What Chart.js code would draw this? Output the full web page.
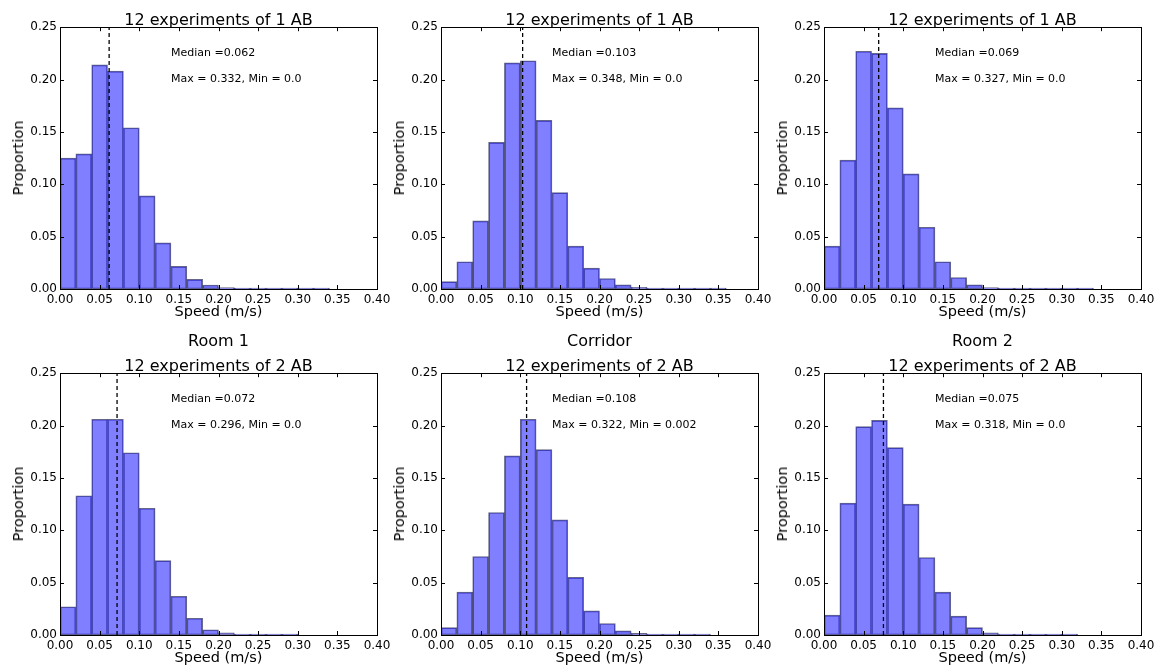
<!DOCTYPE html>
<html>
<head>
<meta charset="utf-8">
<script src="https://cdn.jsdelivr.net/npm/chart.js@4.4.0/dist/chart.umd.min.js"></script>
<style>
  body { margin: 0; background: #fff; }
  #wrap { position: relative; width: 1157px; height: 668px; overflow: hidden; font-family: 'DejaVu Sans', sans-serif; color: #000; }
  canvas { position: absolute; }
  .lbl { position: absolute; white-space: nowrap; transform: translate(-50%, -50%); }
  .title { font-size: 16px; }
  .axis { font-size: 14.5px; }
  .ylab { transform: translate(-50%, -50%) rotate(-90deg); }
</style>
</head>
<body>
<div id="wrap"></div>
<script>
// histogram bins (centres of 0.02 wide bins)
const binCenters = [0.01, 0.03, 0.05, 0.07, 0.09, 0.11, 0.13, 0.15, 0.17, 0.19,
                    0.21, 0.23, 0.25, 0.27, 0.29, 0.31, 0.33, 0.35, 0.37, 0.39];
const xTicks = [0, 0.05, 0.1, 0.15, 0.2, 0.25, 0.3, 0.35, 0.4];
const yTicks = [0, 0.05, 0.1, 0.15, 0.2, 0.25];

const room1OneAB    = [0.125, 0.129, 0.214, 0.208, 0.154, 0.089, 0.044, 0.0216, 0.0092, 0.0038, 0.0013, 0.0005, 0.0003, 0.0001, 0.0001, 0.00005, 0.00003];
const corridorOneAB = [0.007, 0.026, 0.065, 0.140, 0.216, 0.218, 0.161, 0.092, 0.041, 0.020, 0.010, 0.004, 0.0016, 0.0006, 0.0002, 0.0001, 0.00005, 0.00003];
const room2OneAB    = [0.041, 0.123, 0.227, 0.225, 0.173, 0.110, 0.059, 0.026, 0.011, 0.004, 0.0013, 0.0005, 0.0002, 0.0001, 0.0001, 0.00005, 0.0002];
const room1TwoAB    = [0.027, 0.133, 0.206, 0.206, 0.174, 0.121, 0.071, 0.037, 0.016, 0.005, 0.002, 0.0005, 0.0002, 0.0001, 0.00005];
const corridorTwoAB = [0.007, 0.041, 0.075, 0.117, 0.171, 0.206, 0.177, 0.110, 0.055, 0.023, 0.011, 0.004, 0.0015, 0.0005, 0.0002, 0.0001, 0.00005];
const room2TwoAB    = [0.019, 0.126, 0.199, 0.205, 0.179, 0.125, 0.074, 0.041, 0.018, 0.007, 0.002, 0.0006, 0.0002, 0.0001, 0.00005, 0.00003];

const medians = [0.062, 0.103, 0.069, 0.072, 0.108, 0.075];
const maxima  = ['0.332', '0.348', '0.327', '0.296', '0.322', '0.318'];
const minima  = ['0.0', '0.0', '0.0', '0.0', '0.002', '0.0'];
const titles  = ['12 experiments of 1 AB', '12 experiments of 1 AB', '12 experiments of 1 AB',
                 '12 experiments of 2 AB', '12 experiments of 2 AB', '12 experiments of 2 AB'];
const roomNames = ['Room 1', 'Corridor', 'Room 2'];

const series = [room1OneAB, corridorOneAB, room2OneAB, room1TwoAB, corridorTwoAB, room2TwoAB];

Chart.defaults.font.family = "'DejaVu Sans', sans-serif";
Chart.defaults.color = '#000';

const colLeft = [60, 441, 824];
const rowTop = [27, 373];
const plotW = 317;
const plotH = 262;

const frame = {
  id: 'frame',
  afterDatasetsDraw(chart) {
    const { ctx, chartArea: a, scales } = chart;
    ctx.save();
    ctx.strokeStyle = '#000';
    ctx.lineWidth = 1;
    ctx.beginPath();
    xTicks.forEach(v => {
      const px = Math.round(scales.x.getPixelForValue(v)) + 0.5;
      ctx.moveTo(px, a.bottom); ctx.lineTo(px, a.bottom - 4);
      ctx.moveTo(px, a.top); ctx.lineTo(px, a.top + 4);
    });
    yTicks.forEach(v => {
      const py = Math.round(scales.y.getPixelForValue(v)) + 0.5;
      ctx.moveTo(a.left, py); ctx.lineTo(a.left + 4, py);
      ctx.moveTo(a.right, py); ctx.lineTo(a.right - 4, py);
    });
    ctx.stroke();
    ctx.strokeRect(Math.round(a.left) + 0.5, Math.round(a.top) + 0.5,
                   Math.round(a.right - a.left), Math.round(a.bottom - a.top));
    const i = chart.options.plugins.frame.idx;
    ctx.fillStyle = '#000';
    ctx.font = "11px 'DejaVu Sans'";
    ctx.textBaseline = 'middle';
    const tx = scales.x.getPixelForValue(0.14);
    ctx.fillText('Median =' + medians[i], tx, scales.y.getPixelForValue(0.225));
    ctx.fillText('Max = ' + maxima[i] + ', Min = ' + minima[i], tx, scales.y.getPixelForValue(0.2));
    ctx.restore();
  }
};

const wrap = document.getElementById('wrap');

function addLabel(text, cls, x, y) {
  const d = document.createElement('div');
  d.className = 'lbl ' + cls;
  d.textContent = text;
  d.style.left = x + 'px';
  d.style.top = y + 'px';
  wrap.appendChild(d);
}

series.forEach((vals, i) => {
  const col = i % 3, row = Math.floor(i / 3);
  const left = colLeft[col], top = rowTop[row];
  const canvas = document.createElement('canvas');
  canvas.width = plotW + 80;
  canvas.height = plotH + 34;
  canvas.style.left = (left - 60) + 'px';
  canvas.style.top = (top - 10) + 'px';
  wrap.appendChild(canvas);

  new Chart(canvas.getContext('2d'), {
    type: 'bar',
    data: {
      datasets: [
        {
          type: 'line',
          data: [{ x: medians[i], y: 0 }, { x: medians[i], y: 0.25 }],
          borderColor: '#000',
          borderWidth: 1.3,
          borderDash: [4, 3],
          pointRadius: 0,
          order: 0,
        },
        {
          data: vals.map((v, k) => ({ x: binCenters[k], y: v })),
          backgroundColor: 'rgba(0, 0, 255, 0.5)',
          borderColor: 'rgba(0, 0, 60, 0.6)',
          borderWidth: 1,
          borderSkipped: false,
          barPercentage: 1,
          categoryPercentage: 1,
          minBarLength: 1,
          order: 1,
        },
      ],
    },
    options: {
      responsive: false,
      animation: false,
      layout: { padding: { top: 10, right: 20, left: 0, bottom: 0 } },
      plugins: {
        legend: { display: false },
        tooltip: { enabled: false },
        frame: { idx: i },
      },
      scales: {
        x: {
          type: 'linear',
          min: 0,
          max: 0.4,
          offset: false,
          grid: { display: false, drawTicks: false },
          border: { display: false },
          afterFit: s => { s.height = 24; },
          afterBuildTicks: s => { s.ticks = xTicks.map(v => ({ value: v })); },
          ticks: {
            font: { size: 12 },
            padding: 4,
            maxRotation: 0,
            autoSkip: false,
            callback: v => v.toFixed(2),
          },
        },
        y: {
          min: 0,
          max: 0.25,
          grid: { display: false, drawTicks: false },
          border: { display: false },
          afterFit: s => { s.width = 60; },
          afterBuildTicks: s => { s.ticks = yTicks.map(v => ({ value: v })); },
          ticks: {
            font: { size: 12 },
            padding: 3,
            callback: v => v.toFixed(2),
          },
        },
      },
    },
    plugins: [frame],
  });

  const cx = left + plotW / 2;
  addLabel(titles[i], 'title', cx, top - 8);
  addLabel('Speed (m/s)', 'axis', cx, top + plotH + 22);
  addLabel('Proportion', 'axis ylab', left - 42, top + plotH / 2);
  if (row === 1) addLabel(roomNames[col], 'title', cx, top - 33);
});
</script>
</body>
</html>
